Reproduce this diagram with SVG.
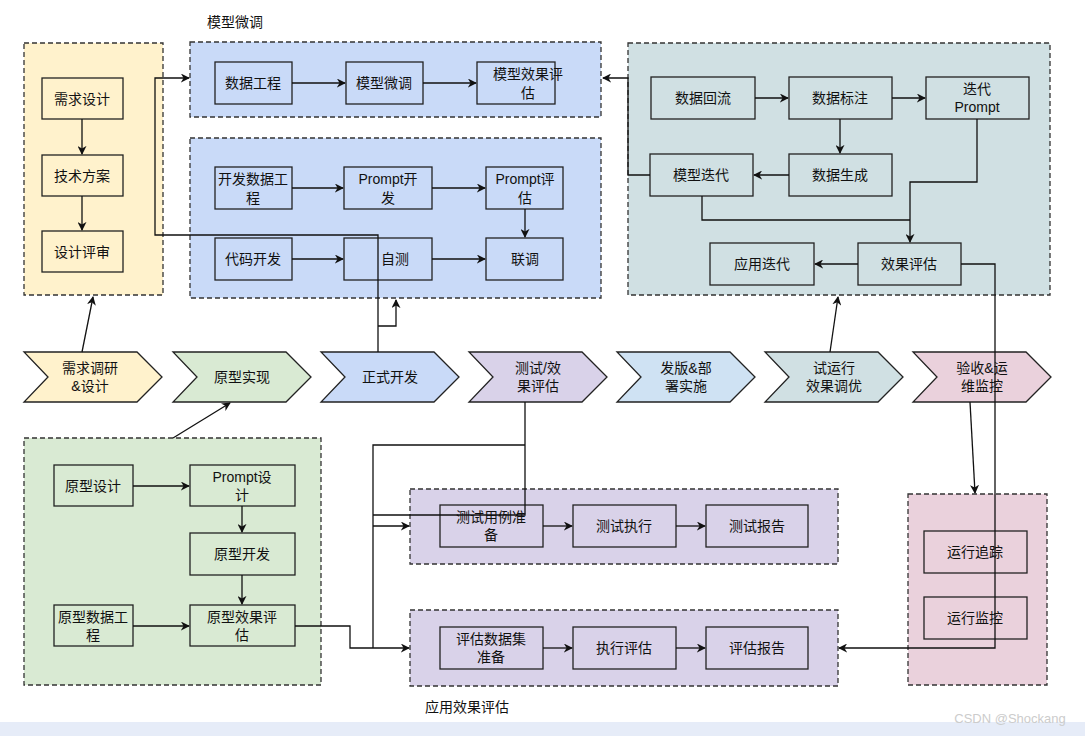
<svg xmlns="http://www.w3.org/2000/svg" width="1085" height="736" viewBox="0 0 1085 736">
<style>
text{font-family:"Liberation Sans","Noto Sans CJK SC",sans-serif;font-size:14px;fill:#111;text-anchor:middle;dominant-baseline:central}
.c{stroke:#333;stroke-width:1.3;stroke-dasharray:5,3}
.n{stroke:#222;stroke-width:1.3}
.e{fill:none;stroke:#111;stroke-width:1.3}
.a{marker-end:url(#ar)}
</style>
<defs><marker id="ar" viewBox="0 0 10 10" refX="9" refY="5" markerWidth="9" markerHeight="9" markerUnits="userSpaceOnUse" orient="auto"><path d="M0,0 L10,5 L0,10 L3,5 z" fill="#111"/></marker></defs>
<rect width="1085" height="736" fill="#fff"/>
<rect x="0" y="722" width="1085" height="14" fill="#e6ecf8"/>
<g id="containers">
<rect class="c" x="24" y="43" width="139" height="252" fill="#fff2cc"/>
<rect class="c" x="190" y="42" width="411" height="75" fill="#c9daf8"/>
<rect class="c" x="190" y="138" width="411" height="160" fill="#c9daf8"/>
<rect class="c" x="628" y="43" width="422" height="252" fill="#d0e0e3"/>
<rect class="c" x="24" y="438" width="297" height="247" fill="#d9ead3"/>
<rect class="c" x="410" y="489" width="428" height="75" fill="#d9d2e9"/>
<rect class="c" x="410" y="610" width="428" height="76" fill="#d9d2e9"/>
<rect class="c" x="908" y="494" width="139" height="191" fill="#ead1dc"/>
<text x="235" y="22">模型微调</text>
<text x="467" y="707">应用效果评估</text>
</g>
<g id="nodes">
<g id="n1"><rect class="n" x="42" y="78" width="81" height="41" fill="#fff2cc"/><text x="82" y="99">需求设计</text></g>
<g id="n2"><rect class="n" x="42" y="155" width="81" height="41" fill="#fff2cc"/><text x="82" y="176">技术方案</text></g>
<g id="n3"><rect class="n" x="42" y="231" width="81" height="41" fill="#fff2cc"/><text x="82" y="252">设计评审</text></g>
<g id="n4"><rect class="n" x="215" y="62" width="77" height="42" fill="#c9daf8"/><text x="253" y="83">数据工程</text></g>
<g id="n5"><rect class="n" x="346" y="62" width="77" height="42" fill="#c9daf8"/><text x="384" y="83">模型微调</text></g>
<g id="n6"><rect class="n" x="477" y="62" width="78" height="42" fill="#c9daf8"/><text x="528" y="74">模型效果评</text><text x="528" y="93">估</text></g>
<g id="n7"><rect class="n" x="215" y="167" width="77" height="42" fill="#c9daf8"/><text x="253" y="179">开发数据工</text><text x="253" y="198">程</text></g>
<g id="n8"><rect class="n" x="344" y="167" width="88" height="42" fill="#c9daf8"/><text x="388" y="179">Prompt开</text><text x="388" y="198">发</text></g>
<g id="n9"><rect class="n" x="486" y="167" width="77" height="42" fill="#c9daf8"/><text x="525" y="179">Prompt评</text><text x="525" y="198">估</text></g>
<g id="n10"><rect class="n" x="215" y="238" width="77" height="42" fill="#c9daf8"/><text x="253" y="259">代码开发</text></g>
<g id="n11"><rect class="n" x="344" y="238" width="88" height="42" fill="#c9daf8"/><text x="395" y="259">自测</text></g>
<g id="n12"><rect class="n" x="486" y="238" width="77" height="42" fill="#c9daf8"/><text x="525" y="259">联调</text></g>
<g id="n13"><rect class="n" x="651" y="77" width="104" height="42" fill="#d0e0e3"/><text x="703" y="98">数据回流</text></g>
<g id="n14"><rect class="n" x="789" y="77" width="103" height="42" fill="#d0e0e3"/><text x="840" y="98">数据标注</text></g>
<g id="n15"><rect class="n" x="926" y="77" width="103" height="42" fill="#d0e0e3"/><text x="977" y="89">迭代</text><text x="977" y="107">Prompt</text></g>
<g id="n16"><rect class="n" x="650" y="154" width="103" height="42" fill="#d0e0e3"/><text x="701" y="175">模型迭代</text></g>
<g id="n17"><rect class="n" x="789" y="154" width="103" height="42" fill="#d0e0e3"/><text x="840" y="175">数据生成</text></g>
<g id="n18"><rect class="n" x="710" y="243" width="104" height="42" fill="#d0e0e3"/><text x="762" y="264">应用迭代</text></g>
<g id="n19"><rect class="n" x="858" y="243" width="103" height="42" fill="#d0e0e3"/><text x="909" y="264">效果评估</text></g>
<g id="n20"><rect class="n" x="54" y="465" width="79" height="41" fill="#d9ead3"/><text x="93" y="486">原型设计</text></g>
<g id="n21"><rect class="n" x="190" y="465" width="105" height="41" fill="#d9ead3"/><text x="242" y="477">Prompt设</text><text x="242" y="495">计</text></g>
<g id="n22"><rect class="n" x="190" y="533" width="105" height="42" fill="#d9ead3"/><text x="242" y="554">原型开发</text></g>
<g id="n23"><rect class="n" x="54" y="605" width="79" height="41" fill="#d9ead3"/><text x="93" y="617">原型数据工</text><text x="93" y="635">程</text></g>
<g id="n24"><rect class="n" x="190" y="605" width="105" height="41" fill="#d9ead3"/><text x="242" y="617">原型效果评</text><text x="242" y="635">估</text></g>
<g id="n25"><rect class="n" x="440" y="505" width="103" height="42" fill="#d9d2e9"/><text x="491" y="517">测试用例准</text><text x="491" y="535">备</text></g>
<g id="n26"><rect class="n" x="573" y="505" width="103" height="42" fill="#d9d2e9"/><text x="624" y="526">测试执行</text></g>
<g id="n27"><rect class="n" x="706" y="505" width="102" height="42" fill="#d9d2e9"/><text x="757" y="526">测试报告</text></g>
<g id="n28"><rect class="n" x="440" y="627" width="103" height="42" fill="#d9d2e9"/><text x="491" y="639">评估数据集</text><text x="491" y="657">准备</text></g>
<g id="n29"><rect class="n" x="573" y="627" width="103" height="42" fill="#d9d2e9"/><text x="624" y="648">执行评估</text></g>
<g id="n30"><rect class="n" x="706" y="627" width="102" height="42" fill="#d9d2e9"/><text x="757" y="648">评估报告</text></g>
<g id="n31"><rect class="n" x="924" y="531" width="103" height="42" fill="#ead1dc"/><text x="975" y="552">运行追踪</text></g>
<g id="n32"><rect class="n" x="924" y="597" width="103" height="42" fill="#ead1dc"/><text x="975" y="618">运行监控</text></g>
<g id="p1"><path class="n" d="M24,352 H137 L162,377 L137,402 H24 L48,377 Z" fill="#fff2cc"/><text x="90" y="368">需求调研</text><text x="90" y="386">&amp;设计</text></g>
<g id="p2"><path class="n" d="M173,352 H286 L311,377 L286,402 H173 L197,377 Z" fill="#d9ead3"/><text x="242" y="377">原型实现</text></g>
<g id="p3"><path class="n" d="M321,352 H434 L459,377 L434,402 H321 L345,377 Z" fill="#c9daf8"/><text x="390" y="377">正式开发</text></g>
<g id="p4"><path class="n" d="M469,352 H582 L607,377 L582,402 H469 L493,377 Z" fill="#d9d2e9"/><text x="538" y="368">测试/效</text><text x="538" y="386">果评估</text></g>
<g id="p5"><path class="n" d="M617,352 H730 L755,377 L730,402 H617 L641,377 Z" fill="#cfe2f3"/><text x="686" y="368">发版&amp;部</text><text x="686" y="386">署实施</text></g>
<g id="p6"><path class="n" d="M765,352 H878 L903,377 L878,402 H765 L789,377 Z" fill="#d0e0e3"/><text x="834" y="368">试运行</text><text x="834" y="386">效果调优</text></g>
<g id="p7"><path class="n" d="M913,352 H1026 L1051,377 L1026,402 H913 L937,377 Z" fill="#ead1dc"/><text x="982" y="368">验收&amp;运</text><text x="982" y="386">维监控</text></g>
</g>
<g id="connectors">
<path class="e a" d="M82,119 V154"/>
<path class="e a" d="M82,196 V230"/>
<path class="e a" d="M292,83 H345"/>
<path class="e a" d="M423,83 H476"/>
<path class="e a" d="M292,188 H343"/>
<path class="e a" d="M432,188 H485"/>
<path class="e a" d="M525,209 V237"/>
<path class="e a" d="M292,259 H343"/>
<path class="e a" d="M432,259 H485"/>
<path class="e a" d="M755,98 H788"/>
<path class="e a" d="M892,98 H925"/>
<path class="e a" d="M840,119 V153"/>
<path class="e a" d="M789,175 H754"/>
<path class="e a" d="M858,264 H815"/>
<path class="e a" d="M650,175 H628 V78 H603"/>
<path class="e" d="M702,196 V220 H910"/>
<path class="e a" d="M977,119 V182 H910 V242"/>
<path class="e a" d="M961,264 H995 V648 H839"/>
<path class="e a" d="M82,352 L93,297"/>
<path class="e a" d="M378,352 V235 H155 V78 H189"/>
<path class="e a" d="M378,326 H396 V300"/>
<path class="e a" d="M173,438 L230,403"/>
<path class="e a" d="M830,352 L838,297"/>
<path class="e a" d="M970,402 L975,493"/>
<path class="e a" d="M133,486 H189"/>
<path class="e a" d="M242,506 V532"/>
<path class="e a" d="M242,575 V604"/>
<path class="e a" d="M133,626 H189"/>
<path class="e" d="M525,402 V515 H373 M525,445 H373 V648"/>
<path class="e a" d="M373,526 H409"/>
<path class="e a" d="M295,626 H350 V648 H409"/>
<path class="e a" d="M543,526 H572"/>
<path class="e a" d="M676,526 H705"/>
<path class="e a" d="M543,648 H572"/>
<path class="e a" d="M676,648 H705"/>
</g>
<text x="1010" y="718" style="font-size:13px;fill:#ccc">CSDN @Shockang</text>
</svg>
